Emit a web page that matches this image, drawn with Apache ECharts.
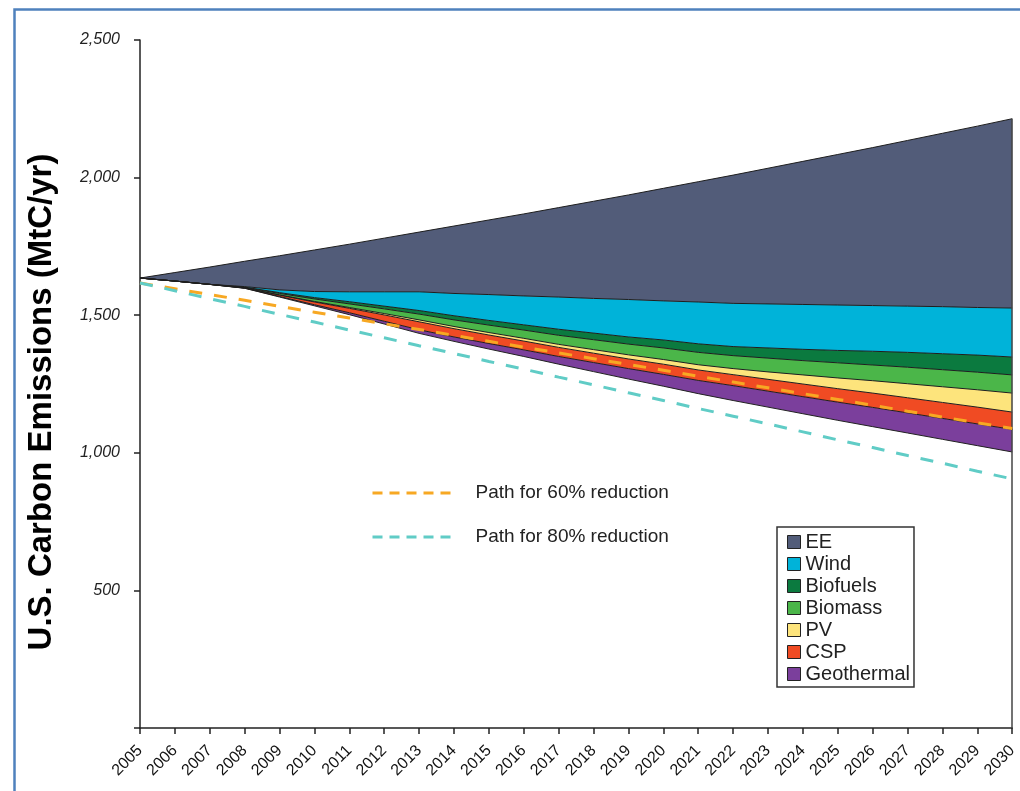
<!DOCTYPE html>
<html>
<head>
<meta charset="utf-8">
<script src="https://cdn.jsdelivr.net/npm/echarts@6/dist/echarts.min.js"></script>
<style>
html,body{margin:0;padding:0;background:#fff;}
#chart{width:1020px;height:791px;}
</style>
</head>
<body>
<div id="chart"></div>
<script>
const years = ['2005','2006','2007','2008','2009','2010','2011','2012','2013','2014','2015','2016','2017','2018','2019','2020','2021','2022','2023','2024','2025','2026','2027','2028','2029','2030'];
// remaining emissions (bottom of the wedge stack), MtC/yr
const residual = [1635,1624,1612,1598,1566,1534,1502,1468,1434,1405,1377,1350,1322,1295,1268,1242,1215,1190,1166,1142,1118,1095,1072,1049,1026,1003];
// wedge thicknesses, MtC/yr
const geothermal = [0,0,0,0,2,4,7,10,13,16,20,24,28,33,38,43,48,54,58,62,66,70,73,76,79,82];
const csp        = [0,0,0,1,5,10,16,23,29,30,31,32,33,34,35,37,38,40,43,46,49,52,55,58,61,63];
const pv         = [0,0,0,0,1,2,3,5,7,8,9,10,11,13,15,17,19,22,27,33,39,45,51,57,63,69];
const biomass    = [0,0,0,2,5,9,13,17,21,24,27,30,33,36,39,42,45,47,50,52,55,57,60,62,64,66];
const biofuels   = [0,0,0,1,3,5,8,10,13,15,17,19,22,24,26,29,31,33,37,41,45,50,54,58,62,65];
const wind       = [0,0,0,2,10,22,36,52,68,81,94,105,117,126,136,142,152,157,160,163,165,166,168,171,173,178];
const ee         = [0,31,63,92,124,151,173,195,217,245,271,298,325,353,380,409,437,466,493,520,547,574,602,630,659,688];
// reduction paths
const path60 = [1617,1596,1575,1554,1532,1511,1490,1469,1448,1427,1405,1384,1363,1342,1321,1300,1278,1257,1236,1215,1194,1173,1151,1130,1109,1088];
const path80 = [1617,1589,1560,1532,1503,1475,1446,1418,1389,1361,1332,1304,1275,1247,1218,1190,1161,1133,1105,1076,1047,1019,990,962,933,905];

const bands = [
  {name:'Geothermal', data:geothermal, color:'#7b3f9c'},
  {name:'CSP', data:csp, color:'#f04b23'},
  {name:'PV', data:pv, color:'#fde47c'},
  {name:'Biomass', data:biomass, color:'#4bb649'},
  {name:'Biofuels', data:biofuels, color:'#0b7a3f'},
  {name:'Wind', data:wind, color:'#00b3d9'},
  {name:'EE', data:ee, color:'#525c79'}
];
const last = years.length - 1;
let topLast = residual[last];
bands.forEach(b => { topLast += b.data[last]; });

const FONT = '"Liberation Sans", Arial, sans-serif';
const series = [{
  name:'base', type:'line', stack:'w', data:residual, symbol:'none',
  lineStyle:{color:'#222', width:1}, silent:true, z:2
}];
bands.forEach(b => {
  series.push({
    name:b.name, type:'line', stack:'w', data:b.data, symbol:'none',
    color:b.color, itemStyle:{color:b.color},
    lineStyle:{color:'#1e1e1e', width:1},
    areaStyle:{color:b.color, opacity:1}, z:2
  });
});
series.push({
  name:'Path for 60% reduction', type:'line', data:path60, symbol:'none', z:5,
  color:'#f7a823', lineStyle:{color:'#f7a823', width:3, type:[13,12]}
});
series.push({
  name:'Path for 80% reduction', type:'line', data:path80, symbol:'none', z:5,
  color:'#60ccc6', lineStyle:{color:'#60ccc6', width:3, type:[13,12]},
  markLine:{symbol:'none', silent:true, label:{show:false},
    lineStyle:{color:'#444', width:1.5, type:'solid'},
    data:[[{coord:[years[last],0]},{coord:[years[last],topLast]}]]}
});

const chart = echarts.init(document.getElementById('chart'), null, {renderer:'canvas'});
chart.setOption({
  animation:false,
  backgroundColor:'#fff',
  grid:{left:140, right:3, top:40, bottom:63},
  xAxis:{
    type:'category', data:years, boundaryGap:false,
    axisLine:{lineStyle:{color:'#222', width:1.5}},
    axisTick:{show:true, length:6, alignWithLabel:true, lineStyle:{color:'#222', width:1.5}},
    axisLabel:{rotate:45, interval:0, margin:20, fontFamily:FONT, fontSize:16, color:'#111'},
    splitLine:{show:false}
  },
  yAxis:{
    type:'value', min:0, max:2500, interval:500,
    name:'U.S. Carbon Emissions (MtC/yr)', nameLocation:'middle', nameGap:82,
    nameTextStyle:{fontFamily:FONT, fontWeight:'bold', fontSize:33, color:'#000', padding:[0,36,0,0]},
    axisLine:{show:true, lineStyle:{color:'#222', width:1.5}},
    axisTick:{show:true, length:6, lineStyle:{color:'#222', width:1.5}},
    axisLabel:{margin:20, fontFamily:FONT, fontStyle:'italic', fontSize:16, color:'#222',
      formatter: v => v === 0 ? '' : v.toLocaleString('en-US')},
    splitLine:{show:false}
  },
  legend:[{
    data:['EE','Wind','Biofuels','Biomass','PV','CSP','Geothermal'],
    orient:'vertical', left:777, top:527, icon:'rect',
    itemWidth:13, itemHeight:13, itemGap:0,
    padding:[4,4,2,10],
    backgroundColor:'#fff', borderColor:'#333', borderWidth:1.5, borderRadius:0,
    itemStyle:{borderColor:'#222', borderWidth:1},
    textStyle:{fontFamily:FONT, fontSize:20, color:'#222', lineHeight:22, padding:[0,0,0,0]},
    selectedMode:false
  },{
    data:['Path for 60% reduction','Path for 80% reduction'],
    orient:'vertical', left:366, top:478, itemWidth:79, itemHeight:14, itemGap:24,
    itemStyle:{opacity:0},
    lineStyle:{type:[10,7], width:3},
    textStyle:{fontFamily:FONT, fontSize:19, color:'#222', padding:[0,0,0,19], lineHeight:20},
    selectedMode:false
  }],
  graphic:[{
    type:'rect', left:12, top:7, silent:true, z:-1,
    shape:{width:1040, height:820},
    style:{fill:'none', stroke:'#4f81bd', lineWidth:2.5}
  }],
  series:series
});
</script>
</body>
</html>
